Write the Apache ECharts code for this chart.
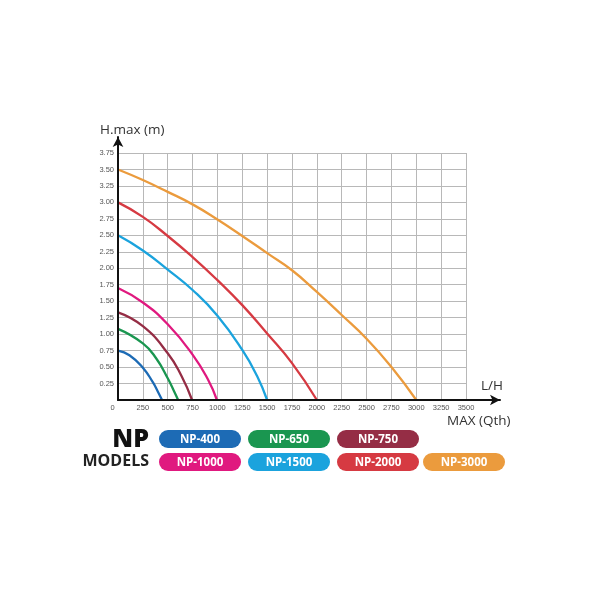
<!DOCTYPE html>
<html lang="en">
<head>
    <meta charset="UTF-8">
    <title>NP pump curves</title>
    <script src="https://cdn.jsdelivr.net/npm/echarts@6/dist/echarts.min.js"></script>
    <style>
        html, body {margin: 0; padding: 0; background: #fff;}
        #main {width: 600px; height: 600px;}
    </style>
</head>
<body>
    <div id="main"></div>
    <script>
        // models and colours
        var models = ['NP-400', 'NP-650', 'NP-750', 'NP-1000', 'NP-1500', 'NP-2000', 'NP-3000'];
        var colors = ['#1d6bb5', '#1a9650', '#952d45', '#e0197f', '#1ba3dd', '#d63a42', '#eb9b3d'];

        // flow (L/H) and head (m)
        var flow400  = [0, 115, 250, 350, 400, 443];
        var head400  = [0.75, 0.68, 0.49, 0.27, 0.13, 0];
        var flow650  = [0, 250, 385, 500, 565, 605];
        var head650  = [1.08, 0.86, 0.63, 0.33, 0.13, 0];
        var flow750  = [0, 250, 500, 640, 745];
        var head750  = [1.33, 1.12, 0.71, 0.36, 0];
        var flow1000 = [0, 250, 500, 750, 905, 995];
        var head1000 = [1.70, 1.48, 1.15, 0.69, 0.31, 0];
        var flow1500 = [0, 250, 500, 750, 1000, 1250, 1400, 1500];
        var head1500 = [2.50, 2.27, 1.98, 1.67, 1.28, 0.76, 0.36, 0];
        var flow2000 = [0, 250, 500, 750, 1000, 1250, 1500, 1750, 2000];
        var head2000 = [3.00, 2.78, 2.49, 2.17, 1.82, 1.44, 1.01, 0.56, 0];
        var flow3000 = [0, 250, 500, 750, 1000, 1250, 1500, 1750, 2000, 2250, 2500, 2750, 3000];
        var head3000 = [3.50, 3.34, 3.16, 2.97, 2.74, 2.49, 2.23, 1.97, 1.64, 1.29, 0.93, 0.50, 0];

        var flows = [flow400, flow650, flow750, flow1000, flow1500, flow2000, flow3000];
        var heads = [head400, head650, head750, head1000, head1500, head2000, head3000];

        function pairs(xs, ys) {
            var out = [];
            for (var i = 0; i < xs.length; i++) out.push([xs[i], ys[i]]);
            return out;
        }

        var series = [];
        for (var i = 0; i < models.length; i++) {
            series.push({
                name: models[i],
                type: 'line',
                xAxisIndex: 0,
                yAxisIndex: 0,
                smooth: 0.5,
                showSymbol: false,
                lineStyle: {color: colors[i], width: 2.3},
                itemStyle: {color: colors[i]},
                data: pairs(flows[i], heads[i]),
                z: 5
            });
        }

        // legend pills: row, column slots
        var pillRow = [0, 0, 0, 1, 1, 1, 1];
        var pillCol = [0, 1, 2, 0, 1, 2, 3];
        var colX = [159, 248, 337, 423];
        var rowY = [430, 453];
        var graphic = [];
        for (var i = 0; i < models.length; i++) {
            graphic.push({
                type: 'group',
                left: colX[pillCol[i]],
                top: rowY[pillRow[i]],
                children: [{
                    type: 'rect',
                    shape: {x: 0, y: 0, width: 82, height: 18, r: 9},
                    style: {fill: colors[i]}
                }, {
                    type: 'text',
                    x: 41, y: 9.5,
                    style: {
                        text: models[i], fill: '#fff',
                        font: 'bold 11.5px "Open Sans", sans-serif',
                        align: 'center', verticalAlign: 'middle'
                    }
                }]
            });
        }
        graphic.push({
            type: 'text', x: 149, y: 440,
            style: {text: 'NP', fill: '#111', font: '900 25px "Open Sans", sans-serif', align: 'right', verticalAlign: 'middle'}
        }, {
            type: 'text', x: 149, y: 461,
            style: {text: 'MODELS', fill: '#222', font: 'bold 16px "Open Sans", sans-serif', align: 'right', verticalAlign: 'middle'}
        }, {
            type: 'text', x: 100, y: 130,
            style: {text: 'H.max (m)', fill: '#333', font: '13.5px "Open Sans", sans-serif', verticalAlign: 'middle'}
        }, {
            type: 'text', x: 481, y: 386,
            style: {text: 'L/H', fill: '#333', font: '13.5px "Open Sans", sans-serif', verticalAlign: 'middle'}
        }, {
            type: 'text', x: 447, y: 421,
            style: {text: 'MAX (Qth)', fill: '#333', font: '13.5px "Open Sans", sans-serif', verticalAlign: 'middle'}
        });

        var myChart = echarts.init(document.getElementById('main'));
        var option = {
            backgroundColor: '#fff',
            animation: false,
            grid: [
                {left: 118, right: 134, top: 153, bottom: 200},
                {left: 118, right: 100, top: 137, bottom: 200}
            ],
            xAxis: [{
                type: 'value', gridIndex: 0,
                min: 0, max: 3500, interval: 250,
                axisLine: {show: false},
                axisTick: {show: false},
                axisLabel: {
                    color: '#555', fontSize: 7.5, margin: 4,
                    formatter: function (v) { return v === 0 ? '{o|0}' : v; },
                    rich: {o: {padding: [0, 11, 0, 0], fontSize: 7.5, color: '#555'}}
                },
                splitLine: {show: true, lineStyle: {color: '#b8b8b8', width: 1}}
            }, {
                type: 'value', gridIndex: 1, min: 0, max: 1,
                axisLine: {show: true, symbol: ['none', 'arrow'], symbolSize: [8, 10], lineStyle: {color: '#111', width: 2}},
                axisTick: {show: false}, axisLabel: {show: false}, splitLine: {show: false},
                z: 6
            }],
            yAxis: [{
                type: 'value', gridIndex: 0,
                min: 0, max: 3.75, interval: 0.25,
                axisLine: {show: false},
                axisTick: {show: false},
                axisLabel: {
                    color: '#555', fontSize: 7.5, margin: 4,
                    formatter: function (v) { return v === 0 ? '' : v.toFixed(2); }
                },
                splitLine: {show: true, lineStyle: {color: '#b8b8b8', width: 1}}
            }, {
                type: 'value', gridIndex: 1, min: 0, max: 1,
                axisLine: {show: true, symbol: ['none', 'arrow'], symbolSize: [8, 10], lineStyle: {color: '#111', width: 2}},
                axisTick: {show: false}, axisLabel: {show: false}, splitLine: {show: false},
                z: 6
            }],
            series: series,
            graphic: graphic
        };
        myChart.setOption(option);
    </script>
</body>
</html>
